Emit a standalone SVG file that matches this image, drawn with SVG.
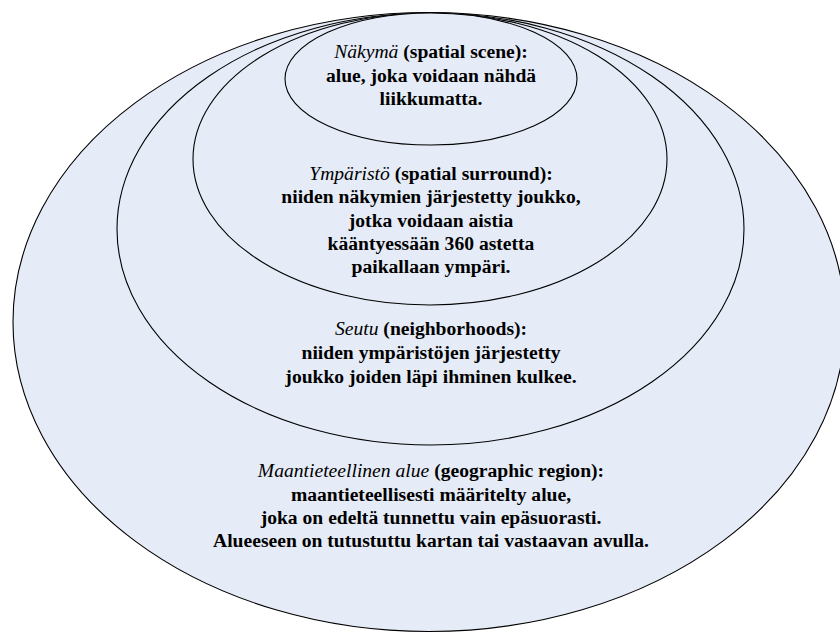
<svg xmlns="http://www.w3.org/2000/svg" width="840" height="633" viewBox="0 0 840 633">
<style>
.e{fill:#E6ECF7;stroke:#000;stroke-width:1.1}
text{font-family:'Liberation Serif','Times New Roman',serif;font-weight:bold;font-size:19.6px;text-anchor:middle;fill:#000}
.i{font-style:italic;font-weight:normal}
</style>
<rect width="840" height="633" fill="#fff"/>
<g id="region">
<ellipse class="e" cx="429" cy="322" rx="416" ry="309.5"/>
<text x="431" y="477"><tspan class="i">Maantieteellinen alue</tspan> (geographic region):</text>
<text x="431" y="500.5">maantieteellisesti määritelty alue,</text>
<text x="431" y="523.5">joka on edeltä tunnettu vain epäsuorasti.</text>
<text x="431" y="547">Alueeseen on tutustuttu kartan tai vastaavan avulla.</text>
</g>
<g id="neighborhood">
<ellipse class="e" cx="430.5" cy="229" rx="313.5" ry="216"/>
<text x="431" y="335"><tspan class="i">Seutu</tspan> (neighborhoods):</text>
<text x="431" y="359">niiden ympäristöjen järjestetty</text>
<text x="431" y="382.5">joukko joiden läpi ihminen kulkee.</text>
</g>
<g id="surround">
<ellipse class="e" cx="430" cy="159" rx="237" ry="146"/>
<text x="431" y="180"><tspan class="i">Ympäristö</tspan> (spatial surround):</text>
<text x="431" y="203.3">niiden näkymien järjestetty joukko,</text>
<text x="431" y="226.7">jotka voidaan aistia</text>
<text x="431" y="250">kääntyessään 360 astetta</text>
<text x="431" y="273.3">paikallaan ympäri.</text>
</g>
<g id="scene">
<ellipse class="e" cx="431" cy="79" rx="146" ry="66"/>
<text x="431" y="58.3"><tspan class="i">Näkymä</tspan> (spatial scene):</text>
<text x="431" y="81.7">alue, joka voidaan nähdä</text>
<text x="431" y="105">liikkumatta.</text>
</g>
<g id="connectors"/>
</svg>
